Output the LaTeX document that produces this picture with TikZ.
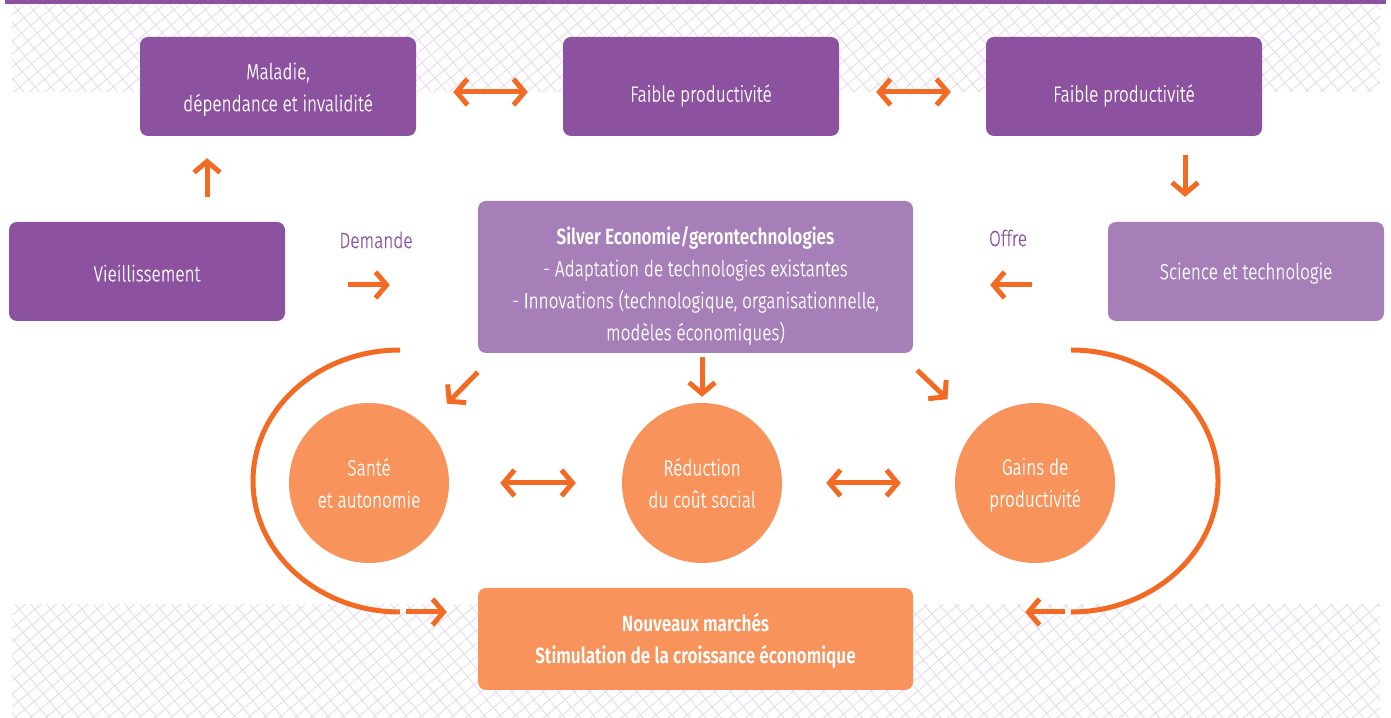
\documentclass[tikz,border=0pt]{standalone}
\usepackage{fontspec}
\setmainfont{Fira Sans}[UprightFont={* Light}, BoldFont={* SemiBold}, UprightFeatures={FakeBold=0.4}, FakeStretch=0.78]
\usetikzlibrary{positioning, arrows.meta, patterns.meta}

\definecolor{violet1}{HTML}{8C519F}
\definecolor{violet2}{HTML}{A67EB8}
\definecolor{orangeA}{HTML}{F26A23}
\definecolor{orangeB}{HTML}{F7935B}
\definecolor{lavande}{HTML}{E4D7EC}

% strut to push a node's text down a little
\newcommand{\tstrut}[1]{\rule{0pt}{#1}}

\begin{document}
\begin{tikzpicture}[x=1pt, y=1pt,
  box/.style={rectangle, rounded corners=8pt, minimum width=276pt, minimum height=99pt, align=center, text=white, font=\fontsize{22}{32}\selectfont},
  darkbox/.style={box, fill=violet1},
  lightbox/.style={box, fill=violet2},
  bubble/.style={circle, fill=orangeB, minimum size=160pt, inner sep=0pt, align=center, text=white, font=\fontsize{22}{32}\selectfont},
  tip/.tip={Straight Barb[length=11pt, width=26pt]},
  arr/.style={draw=orangeA, line width=5pt, -tip},
  dbl/.style={arr, tip-tip},
  swoop/.style={draw=orangeA, line width=5pt},
  sidelabel/.style={text=violet1, font=\fontsize{22}{24}\selectfont}]

\useasboundingbox (0,0) rectangle (1391,717);

% decorative bands
\fill[violet1] (5,713) rectangle (1386,717);
\fill[pattern={Lines[angle=40, distance=10pt, line width=0.8pt]}, pattern color=lavande] (12,625) rectangle (1380,712);
\fill[pattern={Lines[angle=-50, distance=12pt, line width=0.8pt]}, pattern color=lavande] (12,625) rectangle (1380,712);
\fill[pattern={Lines[angle=40, distance=10pt, line width=0.8pt]}, pattern color=lavande] (12,0) rectangle (1380,112);
\fill[pattern={Lines[angle=-50, distance=12pt, line width=0.8pt]}, pattern color=lavande] (12,0) rectangle (1380,112);

\node[darkbox] (maladie) at (278,630.5) {\tstrut{22pt}Maladie,\\dépendance et invalidité};
\node[darkbox] (faible1) at (701,630.5) {\tstrut{35pt}Faible productivité};
\node[darkbox] (faible2) at (1124,630.5) {\tstrut{35pt}Faible productivité};
\node[darkbox] (vieil) at (147,445.5) {\tstrut{20pt}Vieillissement};
\node[lightbox] (science) at (1246,445.5) {\tstrut{20pt}Science et technologie};
\node[lightbox, minimum width=435pt, minimum height=152pt] (silver) at (695.5,440) {\tstrut{35pt}\textbf{Silver Economie/gerontechnologies}\\- Adaptation de technologies existantes\\- Innovations (technologique, organisationnelle,\\modèles économiques)};
\node[bubble] (sante) at (369,234) {Santé\\et autonomie};
\node[bubble] (reduction) at (702,234) {Réduction\\du coût social};
\node[bubble] (gains) at (1035,234) {\tstrut{20pt}Gains de\\productivité};
\node[box, fill=orangeB, minimum width=435pt, minimum height=102pt, font=\bfseries\fontsize{22}{32}\selectfont] (marches) at (695.5,78) {\tstrut{21pt}Nouveaux marchés\\Stimulation de la croissance économique};

\node[sidelabel] (demande) at (376,477) {Demande};
\node[sidelabel] (offre) at (1008,479) {Offre};

% top row
\draw[dbl, shorten <=37pt, shorten >=35pt] ([yshift=-5.5pt]maladie.east) -- ([yshift=-5.5pt]faible1.west);
\draw[dbl, shorten <=37pt, shorten >=35pt] ([yshift=-5.5pt]faible1.east) -- ([yshift=-5.5pt]faible2.west);
\draw[arr, shorten <=25pt, shorten >=22pt] ([xshift=60pt]vieil.north) -- ([xshift=-71pt]maladie.south);
\draw[arr, shorten <=19pt, shorten >=25pt] ([xshift=61pt]faible2.south) -- ([xshift=-61pt]science.north);

% demande / offre
\coordinate (row) at (0,432);
\draw[arr, shorten <=63pt, shorten >=88pt] (vieil.east |- row) -- (silver.west |- row);
\draw[arr, shorten <=76pt, shorten >=77pt] (science.west |- row) -- (silver.east |- row);

% effects
\draw[arr, shorten >=31pt] ([yshift=-19pt]silver.south west) -- (sante);
\draw[arr, shorten <=4pt, shorten >=6pt] (silver.south -| reduction) -- (reduction.north);
\draw[arr, shorten >=41pt] ([shift={(4pt,-17pt)}]silver.south east) -- (gains);
\draw[dbl, shorten <=51pt, shorten >=46pt] (sante) -- (reduction);
\draw[dbl, shorten <=44pt, shorten >=54pt] (reduction) -- (gains);

% loops to new markets
\coordinate (larc) at (400,367);
\draw[swoop] (larc) arc[start angle=90, end angle=270, x radius=147pt, y radius=131pt] coordinate (larcend);
\draw[arr, shorten <=6pt, shorten >=31pt] (larcend) -- (marches.west |- larcend);
\coordinate (rarc) at (1071,367);
\draw[swoop] (rarc) arc[start angle=90, end angle=-90, x radius=147pt, y radius=131pt] coordinate (rarcend);
\draw[arr, shorten <=6pt, shorten >=112pt] (rarcend) -- (marches.east |- rarcend);

\end{tikzpicture}
\end{document}
